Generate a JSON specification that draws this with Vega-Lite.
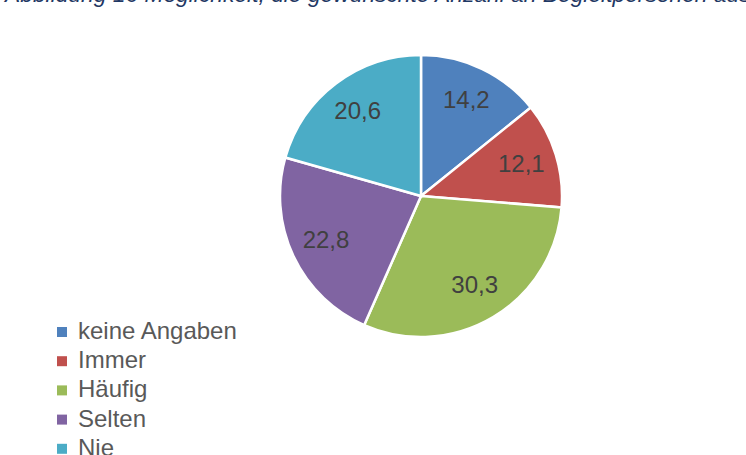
{
  "$schema": "https://vega.github.io/schema/vega-lite/v6.json",
  "autosize": {"type": "none"},
  "width": 650,
  "height": 332,
  "padding": {"left": 96, "top": 30, "right": 0, "bottom": 93},
  "background": "white",
  "title": {
    "text": "Abbildung 16 Möglichkeit, die gewünschte Anzahl an Begleitpersonen auszuwählen",
    "anchor": "start",
    "frame": "group",
    "orient": "top",
    "baseline": "alphabetic",
    "offset": 5,
    "dx": -91,
    "font": "Liberation Sans",
    "fontStyle": "italic",
    "fontWeight": "normal",
    "fontSize": 22.8,
    "color": "#1F3864"
  },
  "config": {
    "view": {"stroke": null},
    "locale": {"number": {"decimal": ",", "thousands": ".", "grouping": [3], "currency": ["", " €"]}}
  },
  "data": {
    "values": [
      {"Kategorie": "keine Angaben", "Anteil": 14.2},
      {"Kategorie": "Immer", "Anteil": 12.1},
      {"Kategorie": "Häufig", "Anteil": 30.3},
      {"Kategorie": "Selten", "Anteil": 22.8},
      {"Kategorie": "Nie", "Anteil": 20.6}
    ]
  },
  "transform": [
    {"window": [{"op": "row_number", "as": "Reihenfolge"}]}
  ],
  "encoding": {
    "theta": {"field": "Anteil", "type": "quantitative", "stack": true},
    "color": {
      "field": "Kategorie",
      "type": "nominal",
      "sort": ["keine Angaben", "Immer", "Häufig", "Selten", "Nie"],
      "scale": {
        "domain": ["keine Angaben", "Immer", "Häufig", "Selten", "Nie"],
        "range": ["#4F81BD", "#C0504D", "#9BBB59", "#8064A2", "#4BACC6"]
      },
      "legend": {
        "orient": "none",
        "legendX": -46,
        "legendY": 290,
        "title": null,
        "symbolType": "square",
        "symbolSize": 100,
        "symbolStrokeWidth": 0,
        "symbolOpacity": 1,
        "labelFont": "Liberation Sans",
        "labelFontSize": 24,
        "labelColor": "#595959",
        "labelOffset": 4,
        "labelLimit": 400,
        "rowPadding": 5.2,
        "padding": 0
      }
    },
    "order": {"field": "Reihenfolge", "type": "quantitative", "sort": "ascending"}
  },
  "layer": [
    {
      "mark": {"type": "arc", "outerRadius": 141, "stroke": "white", "strokeWidth": 2.5}
    },
    {
      "mark": {"type": "text", "radius": 105, "font": "Liberation Sans", "fontSize": 24, "fill": "#404040"},
      "encoding": {
        "text": {"field": "Anteil", "type": "quantitative", "format": ".1f"},
        "color": {"value": "#404040"}
      }
    }
  ]
}
